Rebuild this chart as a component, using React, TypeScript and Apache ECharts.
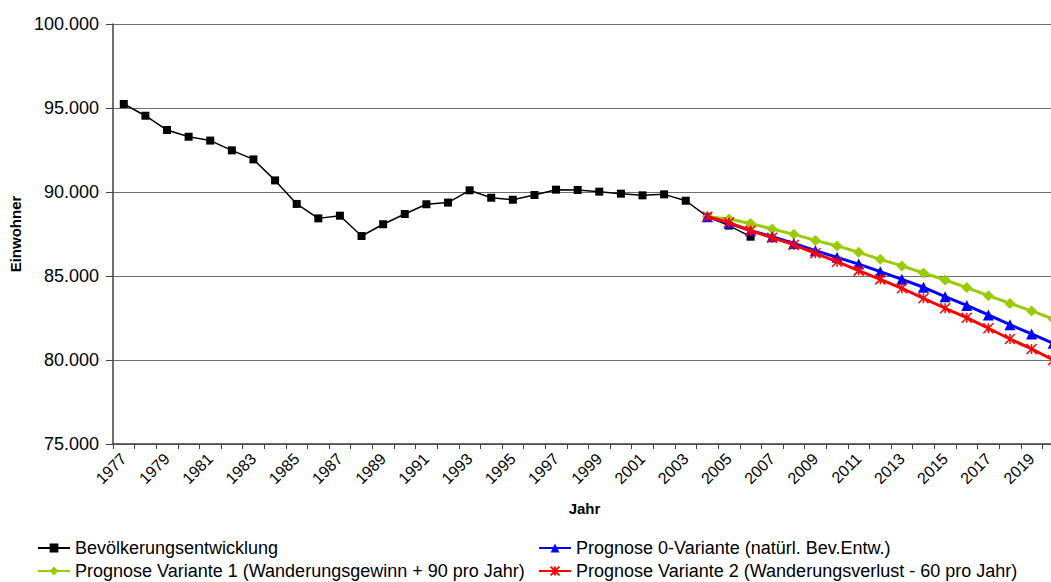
import React, { useEffect, useRef } from "react";
import * as echarts from "echarts";

const years: string[] = [];
for (let y = 1977; y <= 2020; y++) years.push(String(y));

const historyValues = [
  95240, 94540, 93690, 93290, 93060, 92480, 91940, 90690, 89290, 88430,
  88590, 87380, 88080, 88690, 89270, 89370, 90100, 89660, 89540, 89820,
  90140, 90120, 90020, 89900, 89800, 89860, 89480, 88530, 88000, 87340,
];

const forecastStartYear = "2004";
const variant0Values = [
  88530, 88140, 87700, 87340, 86940, 86510, 86110, 85710, 85260, 84800,
  84330, 83770, 83250, 82680, 82100, 81550, 80990,
];
const variant1Values = [
  88530, 88390, 88130, 87800, 87480, 87120, 86790, 86410, 85990, 85600,
  85180, 84760, 84310, 83830, 83370, 82920, 82440,
];
const variant2Values = [
  88530, 88180, 87700, 87280, 86850, 86350, 85850, 85320, 84800, 84270,
  83670, 83080, 82520, 81890, 81250, 80660, 80000,
];

const seriesNames = [
  "Bevölkerungsentwicklung",
  "Prognose 0-Variante (natürl. Bev.Entw.)",
  "Prognose Variante 1 (Wanderungsgewinn + 90 pro Jahr)",
  "Prognose Variante 2 (Wanderungsverlust - 60 pro Jahr)",
];

const FONT = "'Liberation Sans', Arial, sans-serif";
const STAR = "path://M0,0 L10,10 M10,0 L0,10 M5,0 L5,10";

function pad(values: number[], start: string): (number | null)[] {
  const idx = years.indexOf(start);
  const out: (number | null)[] = [];
  for (let i = 0; i < idx; i++) out.push(null);
  return out.concat(values);
}

function fmt(v: number): string {
  return String(v).replace(/\B(?=(\d{3})+(?!\d))/g, ".");
}

export default function App() {
  const ref = useRef<HTMLDivElement>(null);
  useEffect(() => {
    if (!ref.current) return;
    const chart = echarts.init(ref.current, undefined, { renderer: "svg" });
    const legendBase = {
      orient: "horizontal" as const,
      itemWidth: 32,
      itemHeight: 11,
      padding: 0,
      textStyle: { fontFamily: FONT, fontSize: 18, color: "#000" },
      inactiveColor: "#000",
      selectedMode: false,
    };
    chart.setOption({
      animation: false,
      backgroundColor: "#fff",
      textStyle: { fontFamily: FONT },
      grid: { left: 112, top: 24, width: 952, height: 420, containLabel: false },
      legend: [
        { ...legendBase, left: 37, top: 539, data: [seriesNames[0]] },
        { ...legendBase, left: 538, top: 539, data: [seriesNames[1]] },
        { ...legendBase, left: 37, top: 562, data: [seriesNames[2]] },
        { ...legendBase, left: 538, top: 562, data: [seriesNames[3]] },
      ],
      xAxis: {
        type: "category",
        data: years,
        boundaryGap: true,
        name: "Jahr",
        nameLocation: "middle",
        nameGap: 57,
        nameTextStyle: { fontFamily: FONT, fontSize: 15, fontWeight: "bold", color: "#000", padding: [0, 8, 0, 0] },
        axisLine: { lineStyle: { color: "#404040", width: 1.5 } },
        axisTick: { show: true, interval: 0, length: 5, lineStyle: { color: "#404040" } },
        axisLabel: {
          interval: 1,
          rotate: 45,
          margin: 12,
          fontFamily: FONT,
          fontSize: 16,
          color: "#000",
        },
        splitLine: { show: false },
      },
      yAxis: {
        type: "value",
        min: 75000,
        max: 100000,
        interval: 5000,
        name: "Einwohner",
        nameLocation: "middle",
        nameGap: 88,
        nameRotate: 90,
        nameTextStyle: { fontFamily: FONT, fontSize: 15, fontWeight: "bold", color: "#000" },
        axisLine: { show: true, lineStyle: { color: "#404040", width: 1.5 } },
        axisTick: { show: true, length: 7, lineStyle: { color: "#404040" } },
        axisLabel: {
          formatter: (v: number) => fmt(v),
          margin: 14,
          fontFamily: FONT,
          fontSize: 18,
          color: "#000",
        },
        splitLine: { show: true, lineStyle: { color: "#6e6e6e", width: 1 } },
      },
      series: [
        {
          name: seriesNames[0],
          type: "line",
          data: historyValues,
          symbol: "rect",
          symbolSize: 8,
          showAllSymbol: true,
          z: 2,
          lineStyle: { color: "#000", width: 1.5 },
          itemStyle: { color: "#000" },
        },
        {
          name: seriesNames[1],
          type: "line",
          data: pad(variant0Values, forecastStartYear),
          symbol: "triangle",
          symbolSize: 11,
          showAllSymbol: true,
          z: 4,
          lineStyle: { color: "#0000ff", width: 3 },
          itemStyle: { color: "#0000ff" },
        },
        {
          name: seriesNames[2],
          type: "line",
          data: pad(variant1Values, forecastStartYear),
          symbol: "diamond",
          symbolSize: 11,
          showAllSymbol: true,
          z: 3,
          lineStyle: { color: "#99cc00", width: 3 },
          itemStyle: { color: "#99cc00" },
        },
        {
          name: seriesNames[3],
          type: "line",
          data: pad(variant2Values, forecastStartYear),
          symbol: STAR,
          symbolSize: 10,
          showAllSymbol: true,
          z: 5,
          lineStyle: { color: "#ff0000", width: 3 },
          itemStyle: { color: "#ff0000", borderColor: "#ff0000", borderWidth: 1.5 },
        },
      ],
    });
    return () => chart.dispose();
  }, []);
  return (
    <div style={{ position: "fixed", left: 0, top: 0, width: 1051, height: 582, overflow: "hidden", background: "#fff" }}>
      <div ref={ref} style={{ width: 1080, height: 582 }} />
    </div>
  );
}
